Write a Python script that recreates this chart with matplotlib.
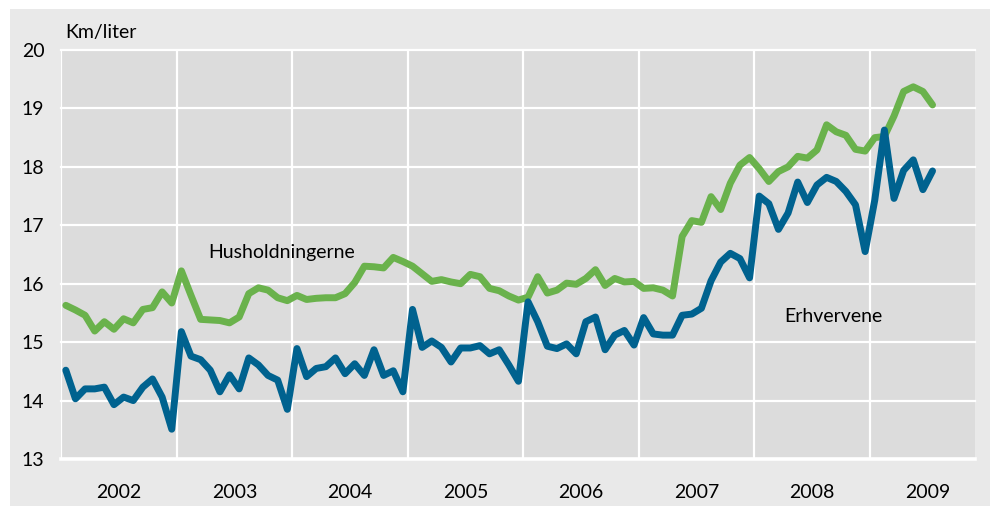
import matplotlib
matplotlib.use("Agg")
import matplotlib.pyplot as plt
from matplotlib.patches import Rectangle
from matplotlib import font_manager

# ---- data (monthly, Jan 2002 - Jul 2009) ----
husholdningerne = [
    15.63, 15.55, 15.46, 15.19, 15.35, 15.22, 15.40, 15.33, 15.56, 15.59, 15.86, 15.67,
    16.22, 15.80, 15.39, 15.38, 15.37, 15.33, 15.43, 15.83, 15.93, 15.89, 15.76, 15.71,
    15.80, 15.73, 15.75, 15.76, 15.76, 15.83, 16.02, 16.30, 16.29, 16.27, 16.45, 16.38,
    16.30, 16.17, 16.04, 16.07, 16.03, 16.00, 16.16, 16.12, 15.92, 15.88, 15.79, 15.72,
    15.77, 16.12, 15.84, 15.89, 16.01, 15.99, 16.09, 16.24, 15.97, 16.09, 16.03, 16.04,
    15.92, 15.93, 15.89, 15.79, 16.81, 17.08, 17.05, 17.49, 17.27, 17.72, 18.03, 18.16,
    17.97, 17.75, 17.92, 18.00, 18.18, 18.15, 18.29, 18.72, 18.60, 18.54, 18.30, 18.27,
    18.50, 18.52, 18.87, 19.29, 19.37, 19.29, 19.06,
]
erhvervene = [
    14.52, 14.03, 14.20, 14.20, 14.23, 13.93, 14.06, 14.00, 14.23, 14.37, 14.06, 13.51,
    15.18, 14.76, 14.70, 14.52, 14.15, 14.44, 14.20, 14.73, 14.61, 14.43, 14.35, 13.85,
    14.89, 14.41, 14.55, 14.58, 14.73, 14.46, 14.63, 14.43, 14.87, 14.43, 14.51, 14.15,
    15.56, 14.91, 15.02, 14.91, 14.66, 14.90, 14.90, 14.94, 14.80, 14.87, 14.61, 14.33,
    15.69, 15.35, 14.93, 14.89, 14.97, 14.80, 15.35, 15.43, 14.87, 15.12, 15.20, 14.95,
    15.42, 15.14, 15.12, 15.12, 15.46, 15.48, 15.58, 16.05, 16.37, 16.52, 16.43, 16.10,
    17.50, 17.37, 16.93, 17.21, 17.74, 17.39, 17.69, 17.82, 17.75, 17.58, 17.35, 16.55,
    17.43, 18.63, 17.46, 17.94, 18.12, 17.61, 17.93,
]
start_year = 2002
years = [2002, 2003, 2004, 2005, 2006, 2007, 2008, 2009]
yticks = [13, 14, 15, 16, 17, 18, 19, 20]
y_unit = "Km/liter"
label_hh = "Husholdningerne"
label_er = "Erhvervene"

# month centres as fractional years
x = [start_year + (i + 0.5) / 12 for i in range(len(husholdningerne))]

# ---- fonts ----
avail = {f.name for f in font_manager.fontManager.ttflist}
fam = "Lato" if "Lato" in avail else "DejaVu Sans"
plt.rcParams["font.family"] = [fam, "DejaVu Sans"]
fs = 14

W, H = 998, 508
fig = plt.figure(figsize=(W / 100, H / 100), dpi=100)
fig.patch.set_facecolor("white")
fig.patches.append(Rectangle((10 / W, 2 / H), 980 / W, 497 / H,
                             transform=fig.transFigure, facecolor="#e9e9e9",
                             edgecolor="none", zorder=-10))

ax = fig.add_axes([61 / W, 1 - 459 / H, (975 - 61) / W, (459 - 50) / H])
ax.set_facecolor("#dcdcdc")
for s in ax.spines.values():
    s.set_visible(False)

ax.set_xlim(2002, 2002 + (975 - 61.5) / 115.5)
ax.set_ylim(13, 20)

# grid
for yv in yticks:
    ax.axhline(yv, color="white", lw=2.6 if yv == 13 else 1.6, zorder=1, clip_on=False)
for yr in years:
    ax.axvline(yr, color="white", lw=1.6, zorder=1)

ax.plot(x, husholdningerne, color="#6ab24c", lw=5, solid_joinstyle="round",
        solid_capstyle="round", zorder=3)
ax.plot(x, erhvervene, color="#00628f", lw=5, solid_joinstyle="round",
        solid_capstyle="round", zorder=4)

ax.set_yticks(yticks)
ax.set_yticklabels([str(v) for v in yticks], fontsize=fs)
ax.set_xticks([yr + 0.5 for yr in years])
ax.set_xticklabels([str(yr) for yr in years], fontsize=fs)
ax.tick_params(axis="both", length=0, colors="black")
ax.tick_params(axis="y", pad=12)
ax.tick_params(axis="x", pad=18)

ax.text(2003.27, 16.44, label_hh, fontsize=fs, va="baseline", ha="left", zorder=5)
ax.text(2008.26, 15.345, label_er, fontsize=fs, va="baseline", ha="left", zorder=5)
fig.text(65 / W, 1 - 38 / H, y_unit, fontsize=fs, va="baseline", ha="left")

fig.savefig("out.png", dpi=100, facecolor=fig.get_facecolor())
